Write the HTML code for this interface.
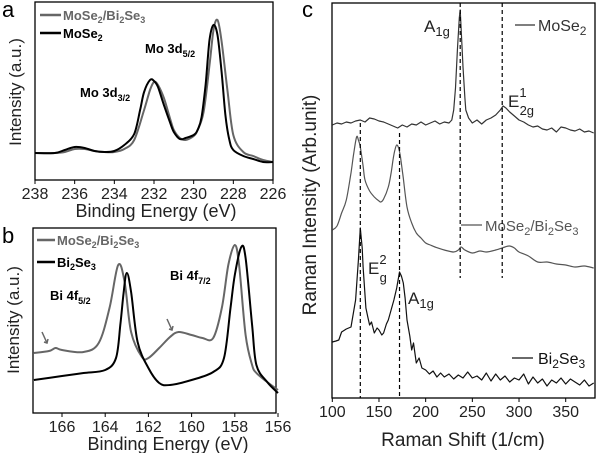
<!DOCTYPE html>
<html><head><meta charset="utf-8"><style>
body{margin:0;background:#fff;width:600px;height:453px;overflow:hidden}
svg{font-family:"Liberation Sans",sans-serif}
</style></head><body>
<svg id="s" width="600" height="453" viewBox="0 0 600 453">
<g>
<text x="2" y="17" font-size="22">a</text>
<rect x="35" y="2" width="238" height="178" fill="none" stroke="#000" stroke-width="1.3"/>
<text transform="translate(21,92) rotate(-90)" text-anchor="middle" font-size="17" fill="#222">Intensity (a.u.)</text>
<text x="156" y="217" text-anchor="middle" font-size="18" fill="#222">Binding Energy (eV)</text>
<line x1="40" y1="15" x2="61" y2="15" stroke="#666" stroke-width="2.5"/>
<text x="63" y="20" font-size="13" font-weight="bold" fill="#666">MoSe<tspan font-size="9" dy="3">2</tspan><tspan dy="-3">/Bi</tspan><tspan font-size="9" dy="3">2</tspan><tspan dy="-3">Se</tspan><tspan font-size="9" dy="3">3</tspan></text>
<line x1="40" y1="33" x2="61" y2="33" stroke="#000" stroke-width="2.5"/>
<text x="63" y="38" font-size="13" font-weight="bold">MoSe<tspan font-size="9" dy="3">2</tspan></text>
<text x="145" y="53" font-size="13" font-weight="bold">Mo 3d<tspan font-size="9" dy="4">5/2</tspan></text>
<text x="80" y="97" font-size="13" font-weight="bold">Mo 3d<tspan font-size="9" dy="4">3/2</tspan></text>
</g>
<g>
<text x="2" y="243" font-size="22">b</text>
<rect x="33" y="228" width="243" height="185" fill="none" stroke="#000" stroke-width="1.3"/>
<text transform="translate(19,320) rotate(-90)" text-anchor="middle" font-size="17" fill="#222">Intensity (a.u.)</text>
<text x="168" y="450" text-anchor="middle" font-size="18" fill="#222">Binding Energy (eV)</text>
<line x1="37" y1="240" x2="55" y2="240" stroke="#666" stroke-width="2.5"/>
<text x="57" y="245" font-size="13" font-weight="bold" fill="#666">MoSe<tspan font-size="9" dy="3">2</tspan><tspan dy="-3">/Bi</tspan><tspan font-size="9" dy="3">2</tspan><tspan dy="-3">Se</tspan><tspan font-size="9" dy="3">3</tspan></text>
<line x1="37" y1="262" x2="55" y2="262" stroke="#000" stroke-width="2.5"/>
<text x="57" y="267" font-size="13" font-weight="bold">Bi<tspan font-size="9" dy="3">2</tspan><tspan dy="-3">Se</tspan><tspan font-size="9" dy="3">3</tspan></text>
<text x="50" y="300" font-size="13" font-weight="bold">Bi 4f<tspan font-size="9" dy="4">5/2</tspan></text>
<text x="170" y="280" font-size="13" font-weight="bold">Bi 4f<tspan font-size="9" dy="4">7/2</tspan></text>
<path d="M42,332 L47,343 M44,342 L47,343 L48,339" stroke="#666" stroke-width="1.5" fill="none"/>
<path d="M167,319 L172,330 M169,329 L172,330 L173,326" stroke="#666" stroke-width="1.5" fill="none"/>
</g>
<g>
<text x="302" y="17" font-size="22">c</text>
<rect x="332" y="3" width="263" height="395" fill="none" stroke="#000" stroke-width="1.3"/>
<text transform="translate(316,205) rotate(-90)" text-anchor="middle" font-size="19" fill="#222">Raman Intensity (Arb.unit)</text>
<text x="463" y="446" text-anchor="middle" font-size="19" fill="#222">Raman Shift (1/cm)</text>
<text x="424" y="32" font-size="17" fill="#222">A<tspan font-size="13" dy="4">1g</tspan></text>
<line x1="515" y1="25" x2="535" y2="25" stroke="#333" stroke-width="1.2"/>
<text x="538" y="31" font-size="16" fill="#333">MoSe<tspan font-size="12" dy="4">2</tspan></text>
<text x="508" y="107" font-size="17" fill="#222">E<tspan font-size="13" dy="-10">1</tspan><tspan font-size="13" dx="-7" dy="18">2g</tspan></text>
<line x1="461" y1="225" x2="482" y2="225" stroke="#555" stroke-width="1.2"/>
<text x="485" y="231" font-size="15" fill="#555">MoSe<tspan font-size="11" dy="4">2</tspan><tspan dy="-4">/Bi</tspan><tspan font-size="11" dy="4">2</tspan><tspan dy="-4">Se</tspan><tspan font-size="11" dy="4">3</tspan></text>
<text x="368" y="274" font-size="17" fill="#222">E<tspan font-size="13" dy="-10">2</tspan><tspan font-size="13" dx="-7" dy="18">g</tspan></text>
<text x="408" y="304" font-size="17" fill="#222">A<tspan font-size="13" dy="4">1g</tspan></text>
<line x1="512" y1="358" x2="533" y2="358" stroke="#111" stroke-width="1.2"/>
<text x="538" y="364" font-size="16" fill="#111">Bi<tspan font-size="12" dy="4">2</tspan><tspan dy="-4">Se</tspan><tspan font-size="12" dy="4">3</tspan></text>
</g>
</svg>
<script>
// Panel a data (binding energy eV, intensity)
const aMoX=[238,237,236.5,236,235.5,235,234.5,234,233.5,233,232.7,232.5,232.2,232,231.8,231.5,231.2,231,230.7,230.4,230,229.8,229.6,229.4,229.2,229,228.8,228.6,228.4,228.2,228,227.5,227,226.5,226];
const aMoY=[27,27,30,33,32,29,28,29,35,46,70,88,100,99,93,75,58,48,41,42,45,50,63,95,140,155,145,110,65,40,30,24,21,18,18];
const aHetX=[238,237,236.5,236,235.5,235,234.5,234,233.5,233,232.5,232.2,232,231.8,231.5,231.2,231,230.7,230.4,230,229.8,229.5,229.2,229,228.8,228.6,228.3,228,227.5,227,226.5,226];
const aHetY=[27,27,28,31,31,29,28,28,31,40,70,90,98,95,82,62,50,42,40,44,50,68,115,150,160,140,90,45,28,24,20,18];
const aTicks=[238,236,234,232,230,228,226];
// Panel b
const bBiX=[167.3,166,165,164,163.5,163.3,163.15,163,162.8,162.5,162,161.5,161,160,159,158.5,158.2,158,157.7,157.5,157.2,157,156.5,156];
const bBiY=[33,37,40,43,55,88,120,140,121,71,45,30,28,33,41,55,105,138,166,155,88,48,31,20];
const bHetX=[167.3,166.6,166.3,166,165,164.3,163.8,163.4,163.1,162.8,162.3,162,161.5,161,160.6,160,159.5,159,158.6,158.3,158,157.8,157.5,157.2,157,156.5,156];
const bHetY=[60,62,65,63,61,70,105,148,131,81,56,55,65,76,81,78,75,75,105,148,168,148,78,48,40,31,23];
const bTicks=[166,164,162,160,158,156];
// Panel c (Raman shift, intensity)
const cMoX=[100,105,110,115,120,125,130,135,140,145,150,155,160,165,170,175,180,185,190,195,200,205,210,215,220,225,228,230,232,234,236,237,238,240,242,243,246,250,255,260,265,270,275,280,283,286,290,295,300,305,310,315,320,325,330,335,340,345,350,355,360,365,370,375,380];
const cMoY=[273,275,274,276,275,277,278,276,280,279,277,276,274,272,270,273,271,274,273,276,273,275,277,274,276,275,278,288,310,348,380,388,370,331,300,288,280,275,278,274,278,280,283,288,292,290,286,282,278,276,273,271,272,269,268,270,266,271,270,268,267,269,266,267,265];
const cHetX=[100,105,110,115,120,123,126,128,130,133,135,140,145,150,152,155,160,163,165,167,169,171,173,176,180,185,190,195,200,205,210,220,230,235,238,242,250,258,265,275,285,290,295,300,310,320,330,340,350,360,370,380];
const cHetY=[168,172,185,198,225,245,261,258,251,232,218,207,201,197,196,199,211,225,238,248,253,250,241,220,191,175,165,160,155,153,151,148,146,148,151,148,145,147,146,148,151,152,150,146,142,136,136,134,133,131,132,130];
const cBiX=[100,104,107,110,115,120,125,128,130,132,133,136,138,140,142,145,148,150,153,155,158,160,163,166,169,172,174,176,178,180,183,185,187,190,193,196,200,204,208,212,216,220,225,230,235,240,245,250,255,260,265,270,275,280,285,290,295,300,305,310,315,320,325,330,335,340,345,350,355,360,365,370,375,380];
const cBiY=[56,57,58,66,69,71,98,138,170,150,131,90,81,73,76,65,70,68,63,65,74,78,88,98,110,126,122,115,100,78,62,48,55,35,40,30,28,24,27,21,25,21,24,19,23,20,26,20,22,18,25,17,24,18,22,16,20,18,24,14,21,15,19,12,18,15,20,14,19,16,13,18,12,15];
const cTicks=[100,150,200,250,300,350];
const dashX=[130,172,237,282];

const NS='http://www.w3.org/2000/svg';
const svg=document.getElementById('s');
function mk(t,a){const e=document.createElementNS(NS,t);for(const k in a)e.setAttribute(k,a[k]);svg.appendChild(e);return e;}
function lin(d0,d1,r0,r1){return v=>r0+(v-d0)*(r1-r0)/(d1-d0);}
function line(xs,ys,sx,sy,col,w,name,smooth){
  const P=xs.map((x,i)=>[sx(x),sy(ys[i])]);
  let d='M'+P[0][0].toFixed(1)+','+P[0][1].toFixed(1);
  for(let i=0;i<P.length-1;i++){
    if(!smooth){d+='L'+P[i+1][0].toFixed(1)+','+P[i+1][1].toFixed(1);continue;}
    const p0=P[Math.max(0,i-1)],p1=P[i],p2=P[i+1],p3=P[Math.min(P.length-1,i+2)];
    const c1=[p1[0]+(p2[0]-p0[0])/6,p1[1]+(p2[1]-p0[1])/6];
    const c2=[p2[0]-(p3[0]-p1[0])/6,p2[1]-(p3[1]-p1[1])/6];
    d+='C'+c1[0].toFixed(1)+','+c1[1].toFixed(1)+' '+c2[0].toFixed(1)+','+c2[1].toFixed(1)+' '+p2[0].toFixed(1)+','+p2[1].toFixed(1);
  }
  const p=mk('path',{d:d,fill:'none',stroke:col,'stroke-width':w,'stroke-linejoin':'round'});
  
  
}
function ticks(vals,sx,yb,name){
  vals.forEach(v=>{
    const l=mk('line',{x1:sx(v),x2:sx(v),y1:yb,y2:yb+4,stroke:'#000','stroke-width':1});
    
    
    const t=mk('text',{x:sx(v),y:yb+19,'text-anchor':'middle','font-size':16,fill:'#222'});
    t.textContent=v;
    
    
  });
}
// panel a
const axX=lin(238,226,35,273), ayY=v=>180-v;
line(aHetX,aHetY,axX,ayY,'#666',2,'series-a-hetero',true);
line(aMoX,aMoY,axX,ayY,'#000',2,'series-a-mose2',true);
ticks(aTicks,axX,180,'panel-a-x');
// panel b
const bxX=lin(166,156,62,278), byY=v=>413-v;
line(bHetX,bHetY,bxX,byY,'#666',2,'series-b-hetero',true);
line(bBiX,bBiY,bxX,byY,'#000',2,'series-b-bi2se3',true);
ticks(bTicks,bxX,413,'panel-b-x');
// panel c
const cxX=lin(100,350,332.3,565.7), cyY=v=>398-v;
line(cMoX,cMoY,cxX,cyY,'#333',1.2,'series-c-mose2',false);
line(cHetX,cHetY,cxX,cyY,'#555',1.2,'series-c-hetero',true);
line(cBiX,cBiY,cxX,cyY,'#111',1.2,'series-c-bi2se3',false);
ticks(cTicks,cxX,398,'panel-c-x');
const dTop=[123,133,3,3],dBot=[398,398,278,278];
dashX.forEach((v,i)=>{
  const l=mk('line',{x1:cxX(v),x2:cxX(v),y1:dTop[i],y2:dBot[i],stroke:'#000','stroke-width':1.2,'stroke-dasharray':'4,3'});
  
  
});
</script>
</body></html>
